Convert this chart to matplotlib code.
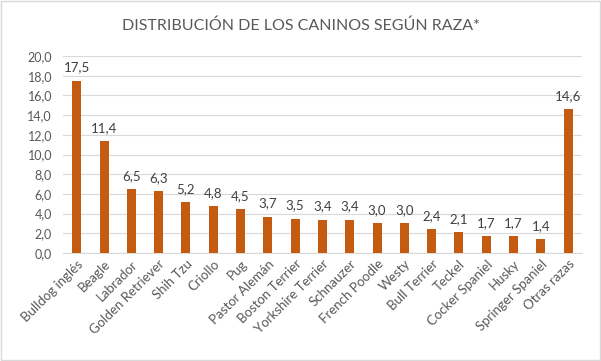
import matplotlib
matplotlib.use("Agg")
import matplotlib.pyplot as plt
from matplotlib.ticker import FuncFormatter, MultipleLocator

categories = ["Bulldog inglés", "Beagle", "Labrador", "Golden Retriever", "Shih Tzu",
              "Criollo", "Pug", "Pastor Alemán", "Boston Terrier", "Yorkshire Terrier",
              "Schnauzer", "French Poodle", "Westy", "Bull Terrier", "Teckel",
              "Cocker Spaniel", "Husky", "Springer Spaniel", "Otras razas"]
values = [17.5, 11.4, 6.5, 6.3, 5.2, 4.8, 4.5, 3.7, 3.5, 3.4, 3.4, 3.0, 3.0, 2.4, 2.1,
          1.7, 1.7, 1.4, 14.6]
title = "DISTRIBUCIÓN DE LOS CANINOS SEGÚN RAZA*"

plt.rcParams['font.family'] = ['Lato', 'DejaVu Sans']
txt = "#595959"
bar_color = "#C55A11"

fig = plt.figure(figsize=(6.01, 3.61), dpi=100)
ax = fig.add_axes([0.105, 0.299, 0.863, 0.546])
x = list(range(len(categories)))
ax.bar(x, values, width=0.33, color=bar_color, zorder=3)
ax.set_xlim(-0.5, len(categories) - 0.5)
ax.set_ylim(0, 20)
ax.yaxis.set_major_locator(MultipleLocator(2))
ax.yaxis.set_major_formatter(FuncFormatter(lambda v, p: f"{v:.1f}".replace(".", ",")))
ax.grid(axis='y', color="#D9D9D9", linewidth=0.8, zorder=0)
for s in ["top", "right", "left"]:
    ax.spines[s].set_visible(False)
ax.spines["bottom"].set_color("#D9D9D9")
ax.tick_params(axis='both', length=0, colors=txt, labelsize=9)
ax.tick_params(axis='y', pad=8)
ax.set_xticks(x)
ax.set_xticklabels(categories, rotation=45, ha='right', rotation_mode='anchor', fontsize=9.5)
for xi, v in zip(x, values):
    ax.annotate(f"{v:.1f}".replace(".", ","), (xi, v), xytext=(0, 5), textcoords='offset points',
                ha='center', va='bottom', fontsize=9.5, color="#404040")
fig.text(0.5, 0.928, title, ha='center', va='center', fontsize=11.5, color=txt)
fig.patches.append(plt.Rectangle((0.001, 0.002), 0.997, 0.996, transform=fig.transFigure,
                                 fill=False, edgecolor="#D9D9D9", linewidth=1))
fig.savefig("out.png", dpi=100)
